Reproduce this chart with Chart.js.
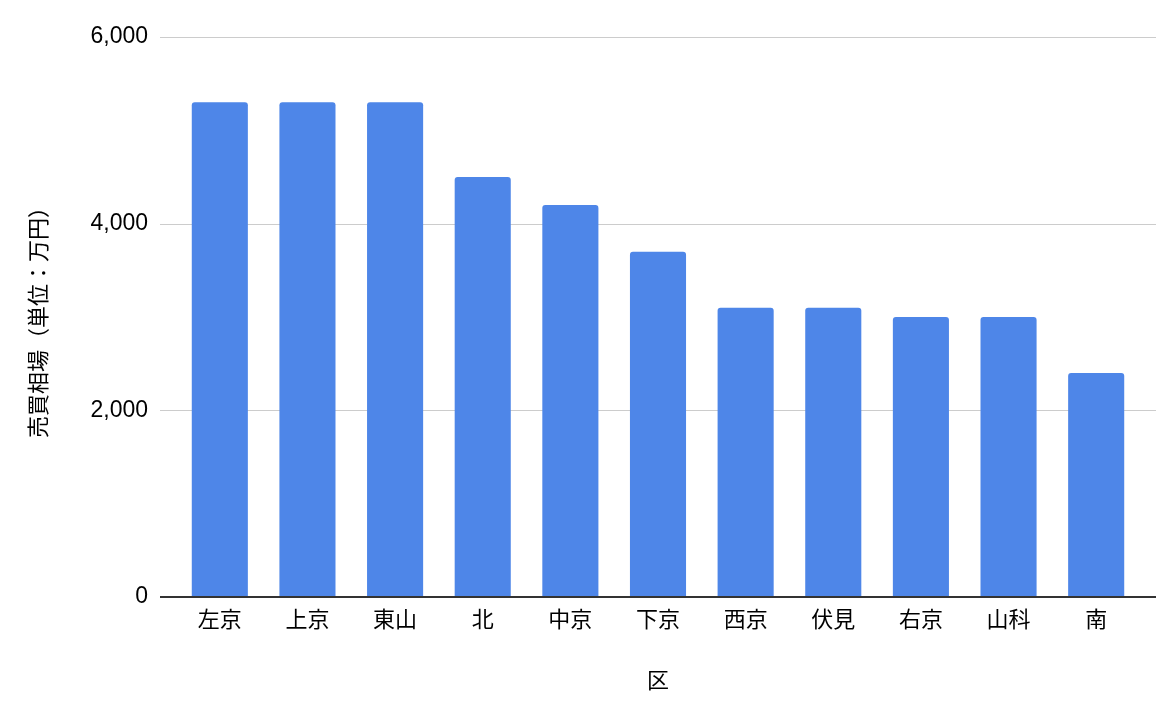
<!DOCTYPE html>
<html>
<head>
<meta charset="utf-8">
<script src="https://cdn.jsdelivr.net/npm/chart.js@4"></script>
<style>
  html, body { margin: 0; padding: 0; background: #fff; }
  #wrap { width: 1176px; height: 710px; }
</style>
</head>
<body>
<div id="wrap"><canvas id="barChart" width="1176" height="710"></canvas></div>
<script>
// data
const wards = ["左京", "上京", "東山", "北", "中京", "下京", "西京", "伏見", "右京", "山科", "南"];
const prices = [5300, 5300, 5300, 4500, 4200, 3700, 3100, 3100, 3000, 3000, 2400];
const yTicks = [0, 2000, 4000, 6000];

const FONT = '"Liberation Sans", "Noto Sans CJK JP", sans-serif';
const GRID_EXTEND = 16;

// grid lines run a bit past the bars on both sides
const gridPlugin = {
    id: "wideGrid",
    beforeDatasetsDraw(chart) {
        const { ctx, chartArea, scales } = chart;
        ctx.save();
        ctx.strokeStyle = "#cccccc";
        ctx.lineWidth = 1;
        yTicks.forEach(v => {
            if (v === 0) return;
            const y = Math.round(scales.y.getPixelForValue(v)) + 0.5;
            ctx.beginPath();
            ctx.moveTo(chartArea.left - GRID_EXTEND, y);
            ctx.lineTo(chartArea.right + GRID_EXTEND, y);
            ctx.stroke();
        });
        ctx.restore();
    },
    afterDatasetsDraw(chart) {
        const { ctx, chartArea, scales } = chart;
        const y = Math.round(scales.y.getPixelForValue(0));
        ctx.save();
        ctx.strokeStyle = "#333333";
        ctx.lineWidth = 2;
        ctx.beginPath();
        ctx.moveTo(chartArea.left - GRID_EXTEND, y);
        ctx.lineTo(chartArea.right + GRID_EXTEND, y);
        ctx.stroke();
        ctx.restore();
    }
};

new Chart(document.getElementById("barChart"), {
    type: "bar",
    data: {
        labels: wards,
        datasets: [{
            data: prices,
            backgroundColor: "#4e86e8",
            borderRadius: { topLeft: 3, topRight: 3 },
            borderSkipped: "start",
            categoryPercentage: 1,
            barPercentage: 0.64
        }]
    },
    options: {
        responsive: false,
        animation: false,
        layout: { padding: { top: 37, right: 36, left: 0, bottom: 0 } },
        plugins: {
            legend: { display: false },
            tooltip: { enabled: false }
        },
        scales: {
            x: {
                grid: { display: false, drawTicks: false },
                border: { display: false },
                ticks: {
                    color: "#000",
                    padding: 11,
                    maxRotation: 0,
                    font: { family: FONT, size: 22 }
                },
                title: {
                    display: true,
                    text: "区",
                    color: "#000",
                    padding: { top: 0, bottom: 15 },
                    font: { family: FONT, size: 22 }
                },
                afterFit: s => { s.height = 113; }
            },
            y: {
                min: 0,
                max: 6000,
                afterBuildTicks: s => { s.ticks = yTicks.map(v => ({ value: v })); },
                grid: { display: false, drawTicks: false },
                border: { display: false },
                ticks: {
                    color: "#000",
                    padding: 28,
                    font: { family: FONT, size: 23 },
                    callback: v => v.toLocaleString("en-US")
                },
                title: {
                    display: true,
                    text: "売買相場（単位：万円）",
                    color: "#000",
                    padding: { top: 27, bottom: 0 },
                    font: { family: FONT, size: 22 }
                },
                afterFit: s => {
                    s.width = 176;
                    s.paddingTop = 14;
                    s.paddingBottom = 14;
                }
            }
        }
    },
    plugins: [gridPlugin]
});
</script>
</body>
</html>
